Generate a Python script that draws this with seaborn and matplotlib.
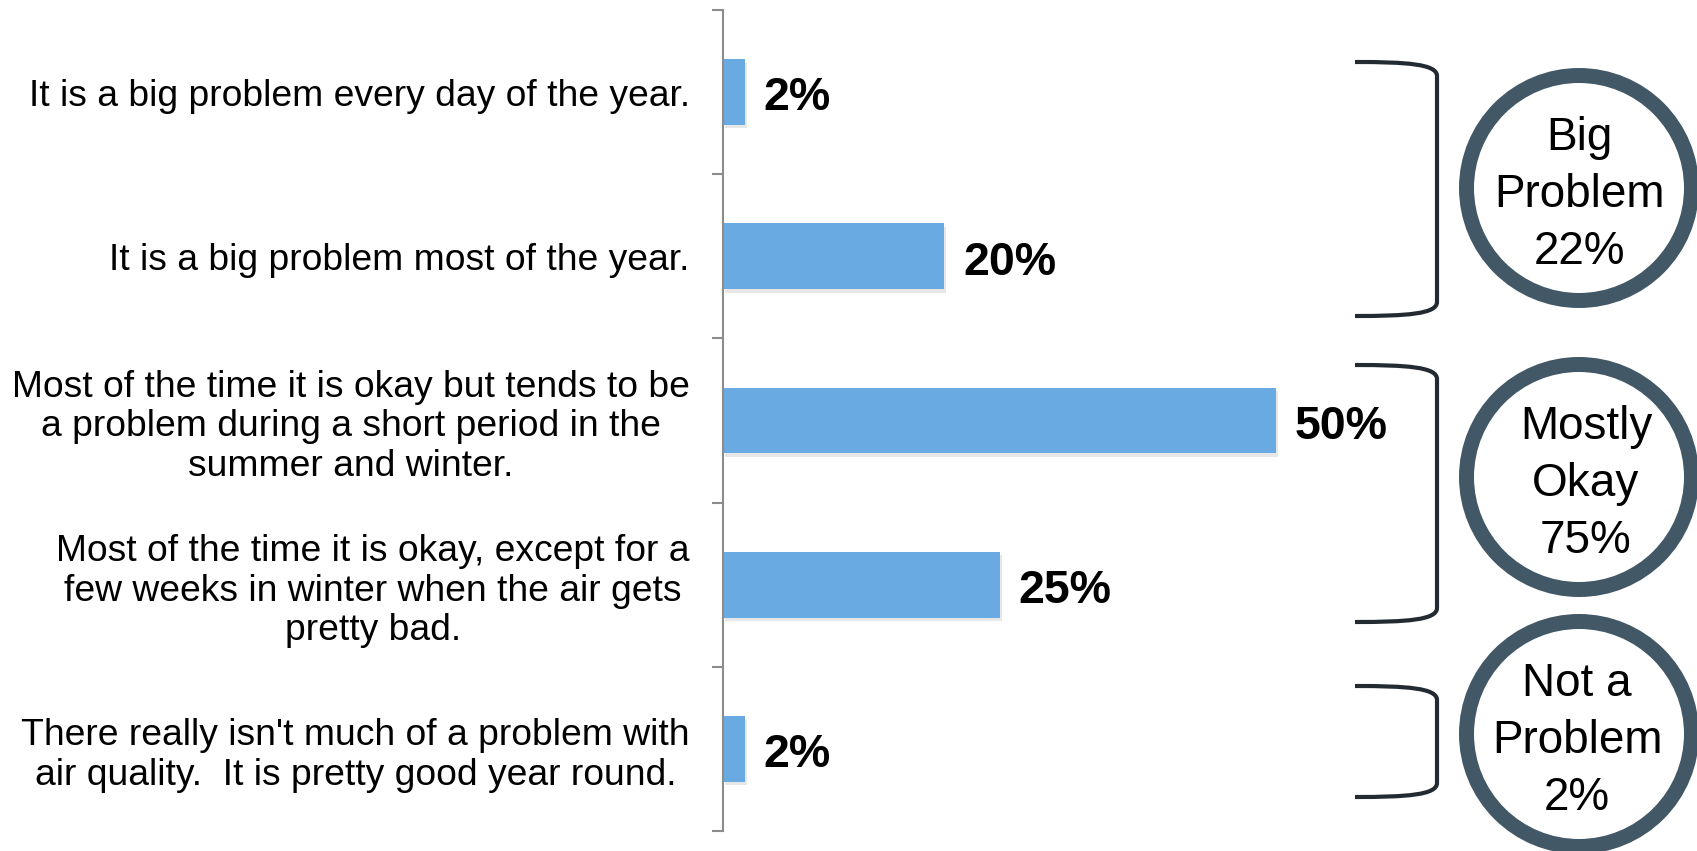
import matplotlib
matplotlib.use("Agg")
import matplotlib.pyplot as plt
import matplotlib.patheffects as pe
from matplotlib.patches import Circle, PathPatch
from matplotlib.path import Path
import seaborn as sns
import pandas as pd

# Survey responses about local air quality
responses = [
    "It is a big problem every day of the year.",
    "It is a big problem most of the year.",
    "Most of the time it is okay but tends to be\na problem during a short period in the\nsummer and winter.",
    "Most of the time it is okay, except for a\nfew weeks in winter when the air gets\npretty bad.",
    "There really isn't much of a problem with\nair quality.  It is pretty good year round.",
]
shares = [2, 20, 50, 25, 2]

# Summary groups shown in the circles
group_titles = [["Big", "Problem"], ["Mostly", "Okay"], ["Not a", "Problem"]]
group_totals = [22, 75, 2]

sns.set_theme(style="white")
plt.rcParams["font.family"] = ["Liberation Sans", "DejaVu Sans"]

W, H = 1697, 851
fig = plt.figure(figsize=(W / 100, H / 100), dpi=100)

px_per_unit = 11.06
ax_left_px, ax_top_px, ax_bottom_px = 723, 10, 831
ax_right_px = 1390
ax = fig.add_axes([ax_left_px / W, 1 - ax_bottom_px / H,
                   (ax_right_px - ax_left_px) / W, (ax_bottom_px - ax_top_px) / H])

df = pd.DataFrame({"response": responses, "share": shares})
sns.barplot(data=df, x="share", y="response", orient="h", width=0.4,
            color="#6AAAE2", saturation=1, ax=ax)

for bar in ax.patches:
    bar.set_edgecolor("none")
    bar.set_path_effects([pe.SimplePatchShadow(offset=(1.5, -2.5), shadow_rgbFace="#b0b0b0", alpha=0.3),
                          pe.Normal()])

ax.set_xlim(0, (ax_right_px - ax_left_px) / px_per_unit)
ax.set_ylim(len(responses) - 0.5, -0.5)
ax.set_xlabel("")
ax.set_ylabel("")
ax.set_xticks([])

for s in ["top", "right", "bottom"]:
    ax.spines[s].set_visible(False)
ax.spines["left"].set_color("#8c8c8c")
ax.spines["left"].set_linewidth(1.5)

ax.set_yticks(range(len(responses)))
ax.set_yticklabels(responses, fontsize=26.8, color="black", ha="right", multialignment="center",
                   linespacing=1.18)
ax.set_yticks([i - 0.5 for i in range(len(responses) + 1)], minor=True)
ax.tick_params(axis="y", which="major", length=0, pad=24)
ax.tick_params(axis="y", which="minor", length=8, width=1.5, color="#8c8c8c", left=True)

for i, v in enumerate(shares):
    ax.annotate(f"{v}%", xy=(v, i), xytext=(13.5, -4.5), textcoords="offset points",
                ha="left", va="center", fontsize=33.5, fontweight="bold", color="black")

# Overlay in pixel units for brackets and summary circles
ov = fig.add_axes([0, 0, 1, 1], facecolor="none")
ov.set_xlim(0, W)
ov.set_ylim(H, 0)
ov.axis("off")

bracket_spans = [(62, 316), (365, 622), (686, 797)]
x0, xc = 1355, 1437
for top, bot in bracket_spans:
    verts = [(x0, top), (xc - 30, top), (xc, top + 2), (xc, top + 14),
             (xc, bot - 14),
             (xc, bot - 2), (xc - 30, bot), (x0, bot)]
    codes = [Path.MOVETO, Path.CURVE4, Path.CURVE4, Path.CURVE4,
             Path.LINETO,
             Path.CURVE4, Path.CURVE4, Path.CURVE4]
    ov.add_patch(PathPatch(Path(verts, codes), fill=False, edgecolor="#232b32",
                           linewidth=3, capstyle="butt", joinstyle="round"))

circle_centers = [(1579, 188), (1579, 477), (1579, 734)]
text_x = [1579, 1586, 1577]
for (cx, cy), tx, title, total in zip(circle_centers, text_x, group_titles, group_totals):
    ov.add_patch(Circle((cx, cy), 112.5, fill=False, edgecolor="#435867", linewidth=10.8))
    lines = title + [f"{total}%"]
    base0 = cy - 38
    for k, line in enumerate(lines):
        ov.text(tx, base0 + 57 * k, line, ha="center", va="baseline", fontsize=33, color="black")

fig.savefig("out.png", dpi=100)
